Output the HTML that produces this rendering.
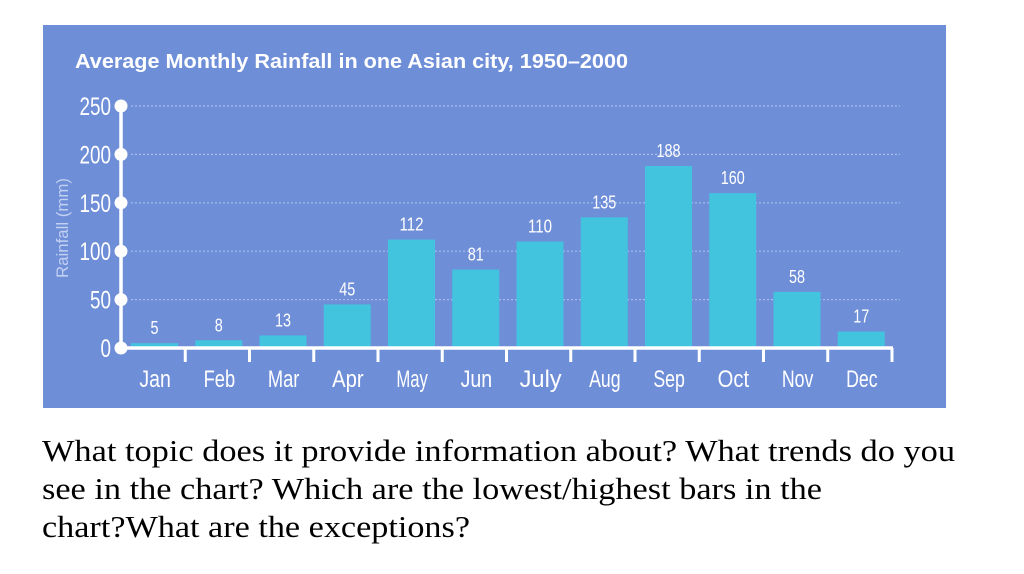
<!DOCTYPE html>
<html><head><meta charset="utf-8"><style>
body{margin:0;background:#fff;width:1024px;height:574px;overflow:hidden}
svg{display:block}
</style></head><body>
<svg width="1024" height="574" viewBox="0 0 1024 574">
<rect x="43" y="25" width="903" height="383" fill="#6f8ed8"/>
<text x="75" y="68" font-family="Liberation Sans, sans-serif" font-weight="bold" font-size="20" fill="#ffffff" textLength="553" lengthAdjust="spacingAndGlyphs">Average Monthly Rainfall in one Asian city, 1950–2000</text>
<text transform="translate(68,228) rotate(-90)" text-anchor="middle" font-family="Liberation Sans, sans-serif" font-size="17" fill="#c2d0f2" textLength="100" lengthAdjust="spacingAndGlyphs">Rainfall (mm)</text>
<g id="grid"></g><g id="bars"></g><g id="axes"></g>
<g font-family="Liberation Serif, serif" font-size="31" fill="#000">
<text x="42" y="461" textLength="913" lengthAdjust="spacingAndGlyphs">What topic does it provide information about? What trends do you</text>
<text x="42" y="499" textLength="780" lengthAdjust="spacingAndGlyphs">see in the chart? Which are the lowest/highest bars in the</text>
<text x="42" y="537" textLength="428" lengthAdjust="spacingAndGlyphs">chart?What are the exceptions?</text>
</g>
</svg>
<script>
const months=["Jan","Feb","Mar","Apr","May","Jun","July","Aug","Sep","Oct","Nov","Dec"];
const rainfall=[5,8,13,45,112,81,110,135,188,160,58,17];
const yTicks=[0,50,100,150,200,250];
const NS="http://www.w3.org/2000/svg";
const x0=121,y0=348,catW=64.25,barW=47,off=10,yScale=242/250,yMax=250;
const yPos=v=>y0-v*yScale;
const xPos=i=>x0+i*catW;
function mk(t,a,p){const e=document.createElementNS(NS,t);for(const k in a)e.setAttribute(k,a[k]);p.appendChild(e);return e;}
const grid=document.getElementById('grid'),bars=document.getElementById('bars'),axes=document.getElementById('axes');
yTicks.forEach(v=>{
 if(v>0){const l=mk('line',{x1:x0+10,x2:900,y1:yPos(v),y2:yPos(v),stroke:'#a9bdec','stroke-width':1.2,'stroke-dasharray':'2 2'},grid);
 
 }
});
rainfall.forEach((v,i)=>{
 const r=mk('rect',{x:xPos(i)+off,y:yPos(v),width:barW,height:y0-yPos(v),fill:'#42c3de'},bars);
 
 
 const t=mk('text',{x:xPos(i)+off+barW/2,y:yPos(v)-9,'text-anchor':'middle','font-family':'Liberation Sans, sans-serif','font-size':18,fill:'#fff',textLength:String(v).length*8,lengthAdjust:'spacingAndGlyphs'},bars);
 t.textContent=v;
 
 
 const m=mk('text',{x:xPos(i)+catW/2+2,y:387,'text-anchor':'middle','font-family':'Liberation Sans, sans-serif','font-size':24,fill:'#fff',textLength:months[i].length*10.5,lengthAdjust:'spacingAndGlyphs'},axes);
 m.textContent=months[i];
 
 
 const tk=mk('line',{x1:xPos(i+1),x2:xPos(i+1),y1:y0,y2:y0+14,stroke:'#fff','stroke-width':3},axes);
 
 
});
const xa=mk('line',{x1:x0,x2:xPos(12)+1,y1:y0,y2:y0,stroke:'#fff','stroke-width':3.5},axes);


const ya=mk('line',{x1:x0,x2:x0,y1:y0,y2:yPos(yMax),stroke:'#fff','stroke-width':3.5},axes);


yTicks.forEach(v=>{
 const c=mk('circle',{cx:x0,cy:yPos(v),r:6.5,fill:'#fff'},axes);
 
 
 const t=mk('text',{x:x0-10,y:yPos(v)+9,'text-anchor':'end','font-family':'Liberation Sans, sans-serif','font-size':25,fill:'#fff',textLength:String(v).length*10.5,lengthAdjust:'spacingAndGlyphs'},axes);
 t.textContent=v;
 
 
});
</script>
</body></html>
